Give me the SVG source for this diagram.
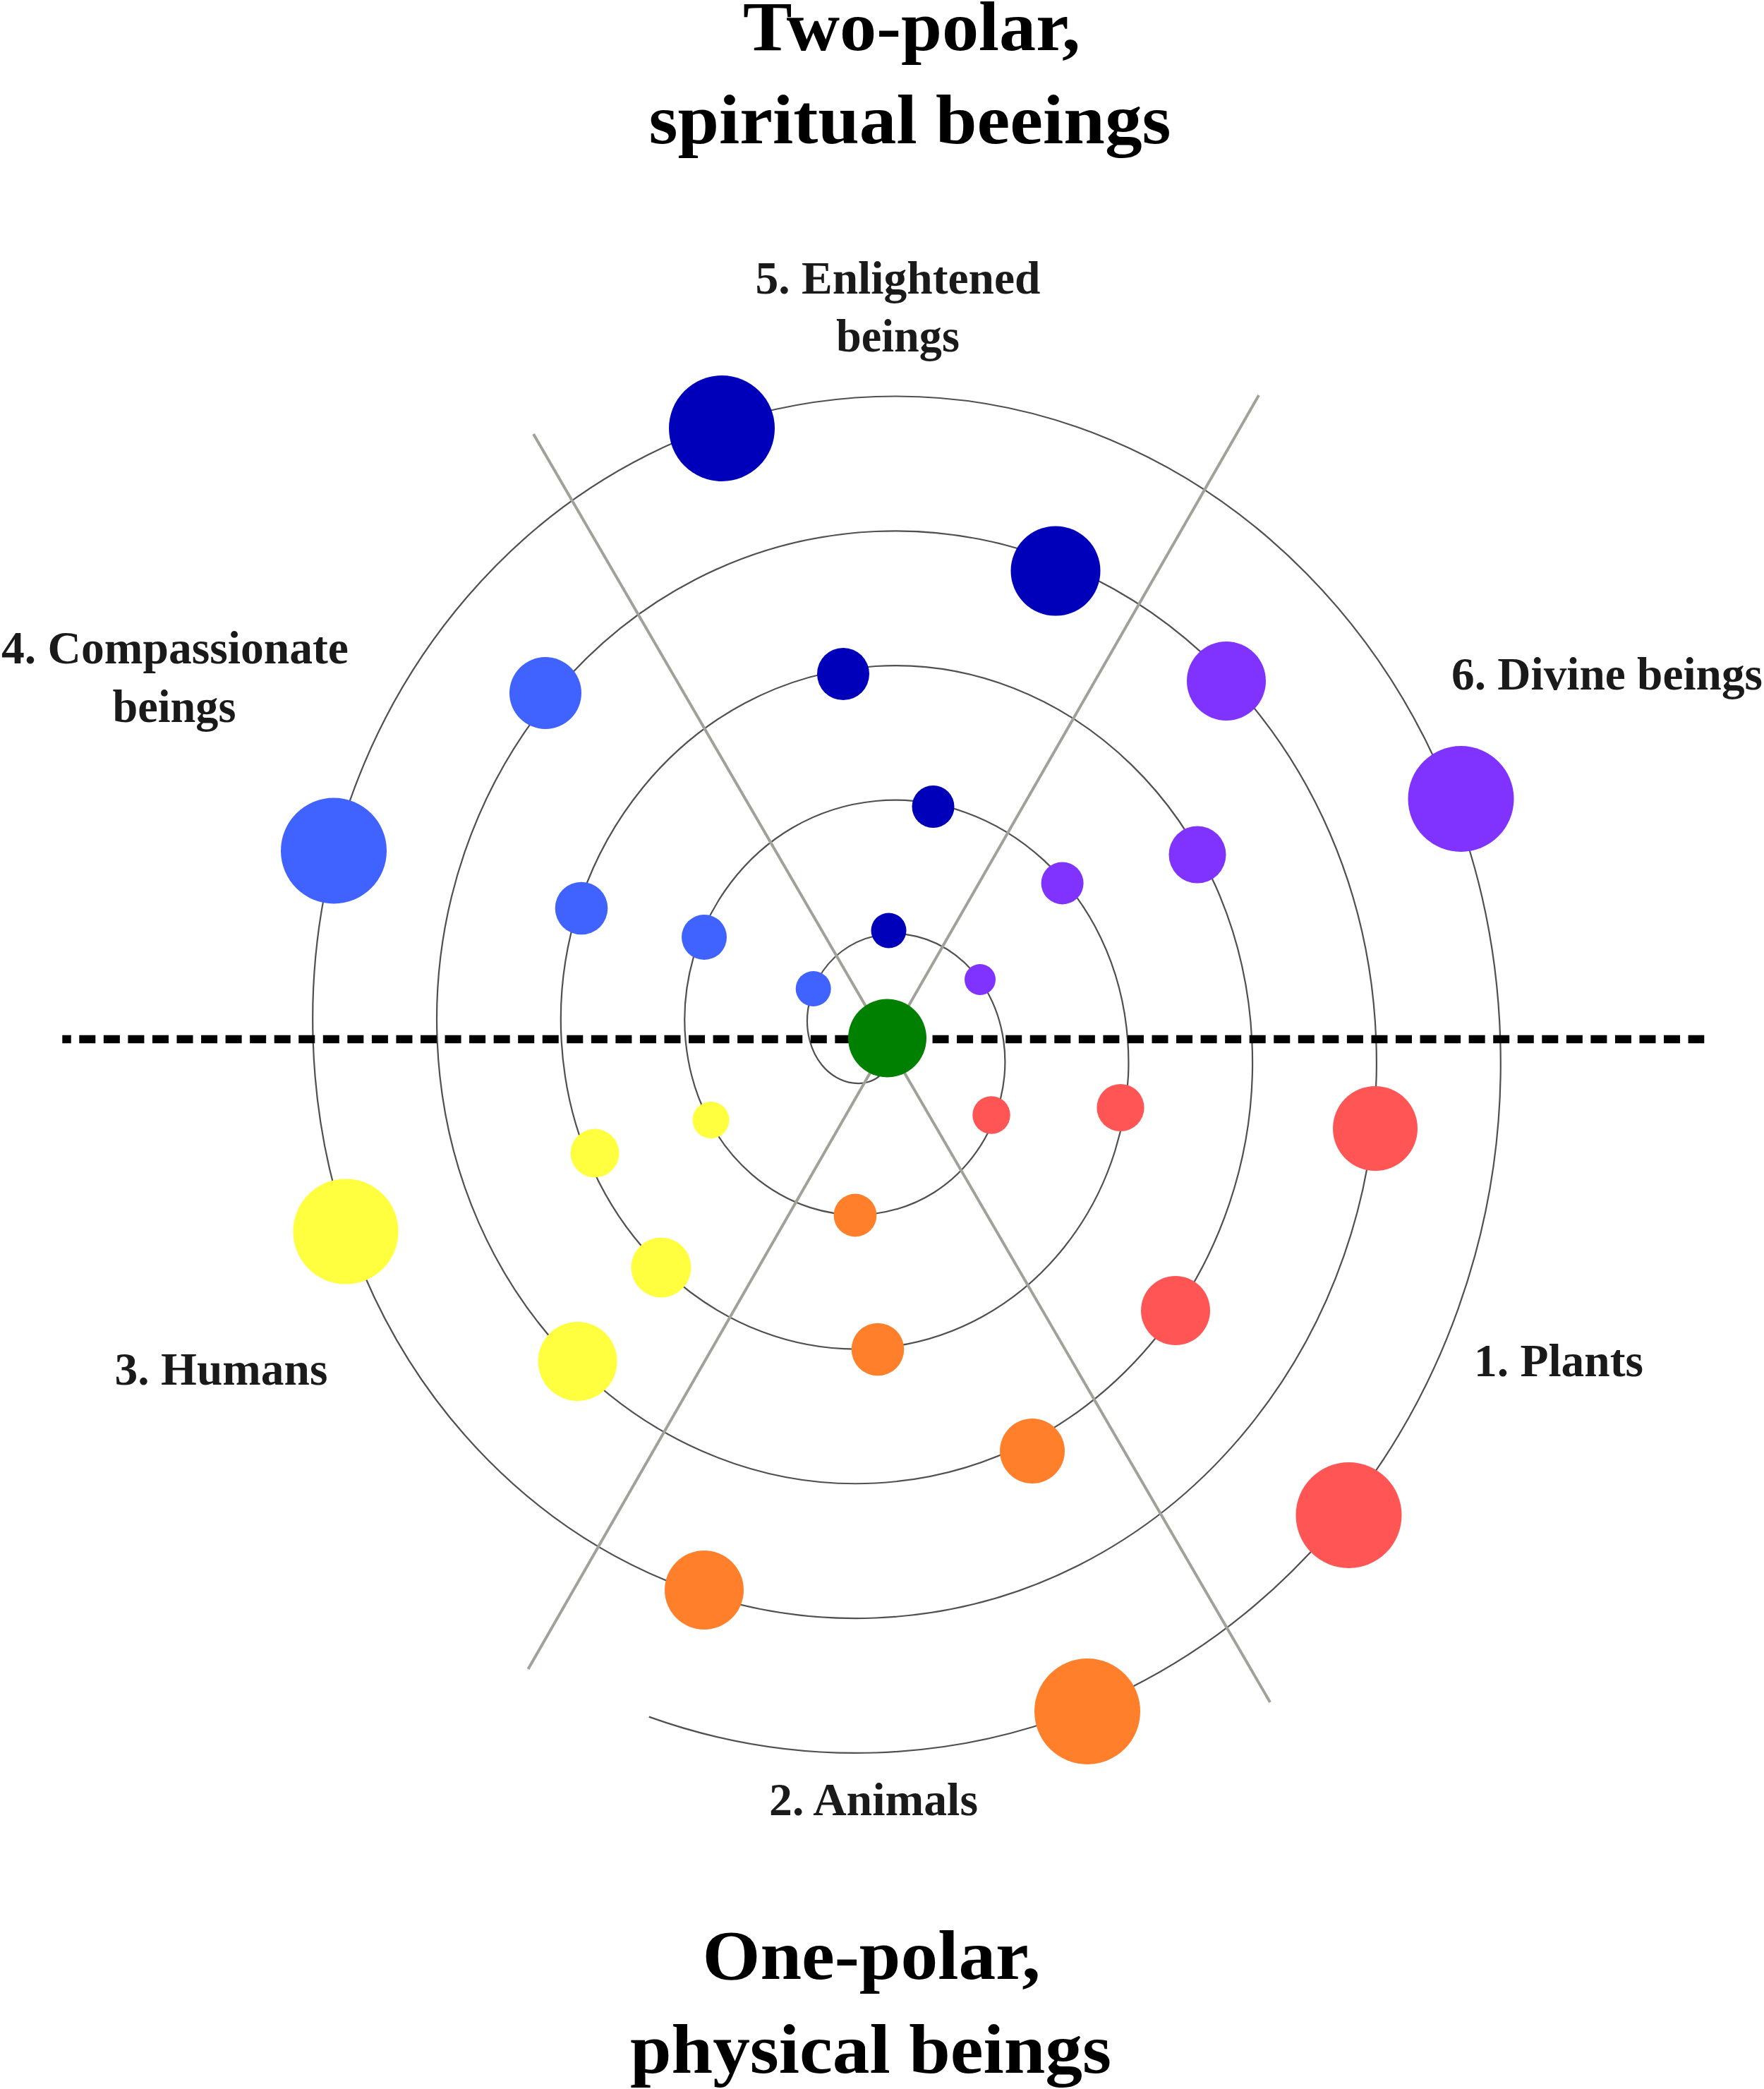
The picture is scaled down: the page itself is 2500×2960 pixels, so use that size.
<svg xmlns="http://www.w3.org/2000/svg" width="2500" height="2960" viewBox="0 0 2500 2960">
<style>
.title{font-family:"Liberation Serif","Times New Roman",serif;font-weight:bold;font-size:100px;fill:#000;text-anchor:middle}
.lbl{font-family:"Liberation Serif","Times New Roman",serif;font-weight:bold;font-size:65px;fill:#1a1a1a;text-anchor:middle}
.spiral{fill:none;stroke:#505050;stroke-width:2.2}
.axis{stroke:#a1a199;stroke-width:4;fill:none}
.dash{stroke:#000;stroke-width:11.5;stroke-dasharray:23 11.55;stroke-dashoffset:10.55;fill:none}
.db{fill:#0000bb}.bl{fill:#4062ff}.pu{fill:#8033ff}.rd{fill:#ff5555}.or{fill:#ff7f2a}.ye{fill:#ffff40}.gr{fill:#008000}
</style>
<rect width="2500" height="2960" fill="#fff"/>
<g id="connectors">
<path id="spiral" class="spiral" d="M1258.32,1507.55 C1255.52,1515.47 1249.65,1523.16 1241,1528.5
C1213.77,1545.29 1163.17,1530.92 1147.70,1475
C1132.23,1419.08 1165.17,1342.79 1241,1326
C1316.83,1309.21 1406.84,1366.34 1422.31,1475
C1437.78,1583.66 1365.44,1702.71 1241,1719.5
C1116.56,1736.29 987.16,1636.41 971.69,1475
C956.22,1313.59 1067.96,1151.79 1241,1135
C1414.04,1118.21 1582.84,1260.85 1598.31,1475
C1613.78,1689.15 1462.65,1893.71 1241,1910.5
C1019.35,1927.29 811.16,1741.90 795.69,1475
C780.22,1208.10 970.75,960.79 1241,944
C1511.25,927.21 1758.85,1155.36 1774.32,1475
C1789.79,1794.64 1559.86,2084.71 1241,2101.5
C922.14,2118.29 635.15,1847.39 619.68,1475
C604.21,1102.61 873.54,769.79 1241,753
C1608.46,736.21 1934.85,1049.87 1950.32,1475
C1965.79,1900.13 1657.07,2275.71 1241,2292.5
C824.93,2309.29 459.14,1952.88 443.67,1475
C428.20,997.12 776.33,578.79 1241,562
C1705.67,545.21 2110.86,944.38 2126.33,1475
C2141.80,2005.62 1754.28,2466.71 1241,2483.5
C1132.59,2487.05 1023.85,2469.98 919.79,2432.65"/>
<line id="axis-a" class="axis" x1="756" y1="615" x2="1800" y2="2412"/>
<line id="axis-b" class="axis" x1="1784" y1="560" x2="748.5" y2="2365"/>
<line id="polar-divide" class="dash" x1="88.3" y1="1472.5" x2="2415.3" y2="1472.5"/>
</g>
<g id="divine">
<g id="divine-1"><circle class="pu" cx="1389" cy="1388" r="22"/></g>
<g id="divine-2"><circle class="pu" cx="1505.6" cy="1251.4" r="30"/></g>
<g id="divine-3"><circle class="pu" cx="1697" cy="1211" r="40.5"/></g>
<g id="divine-4"><circle class="pu" cx="1738" cy="965" r="56"/></g>
<g id="divine-5"><circle class="pu" cx="2070.5" cy="1132" r="75"/></g>
</g>
<g id="enlightened">
<g id="enlightened-1"><circle class="db" cx="1259.5" cy="1318.5" r="25"/></g>
<g id="enlightened-2"><circle class="db" cx="1322.5" cy="1143" r="30"/></g>
<g id="enlightened-3"><circle class="db" cx="1195" cy="955" r="37"/></g>
<g id="enlightened-4"><circle class="db" cx="1496" cy="809" r="63.5"/></g>
<g id="enlightened-5"><circle class="db" cx="1023" cy="607" r="75"/></g>
</g>
<g id="compassionate">
<g id="compassionate-1"><circle class="bl" cx="1152.7" cy="1401" r="25"/></g>
<g id="compassionate-2"><circle class="bl" cx="998" cy="1328" r="32"/></g>
<g id="compassionate-3"><circle class="bl" cx="824" cy="1287" r="37.3"/></g>
<g id="compassionate-4"><circle class="bl" cx="773" cy="982" r="51"/></g>
<g id="compassionate-5"><circle class="bl" cx="473" cy="1205.5" r="75"/></g>
</g>
<g id="humans">
<g id="humans-1"><circle class="ye" cx="1007.5" cy="1587" r="26"/></g>
<g id="humans-2"><circle class="ye" cx="843" cy="1634" r="34.4"/></g>
<g id="humans-3"><circle class="ye" cx="937" cy="1796" r="42.5"/></g>
<g id="humans-4"><circle class="ye" cx="818.6" cy="1929" r="56"/></g>
<g id="humans-5"><circle class="ye" cx="490" cy="1745" r="74.6"/></g>
</g>
<g id="animals">
<g id="animals-1"><circle class="or" cx="1212" cy="1722" r="30.4"/></g>
<g id="animals-2"><circle class="or" cx="1244" cy="1912" r="37.3"/></g>
<g id="animals-3"><circle class="or" cx="1463" cy="2056" r="46"/></g>
<g id="animals-4"><circle class="or" cx="998" cy="2253" r="56"/></g>
<g id="animals-5"><circle class="or" cx="1541" cy="2425" r="75"/></g>
</g>
<g id="plants">
<g id="plants-1"><circle class="rd" cx="1405" cy="1580" r="26.7"/></g>
<g id="plants-2"><circle class="rd" cx="1588" cy="1569.5" r="33.6"/></g>
<g id="plants-3"><circle class="rd" cx="1666" cy="1857" r="49"/></g>
<g id="plants-4"><circle class="rd" cx="1949" cy="1599" r="60"/></g>
<g id="plants-5"><circle class="rd" cx="1911.5" cy="2147" r="75"/></g>
</g>
<g id="origin"><circle class="gr" cx="1257.5" cy="1471" r="55.5"/></g>
<g id="title-top">
<text class="title" x="1292" y="71" textLength="478" lengthAdjust="spacingAndGlyphs">Two-polar,</text>
<text class="title" x="1289.5" y="203" textLength="740" lengthAdjust="spacingAndGlyphs">spiritual beeings</text>
</g>
<g id="title-bottom">
<text class="title" x="1235" y="2804" textLength="479" lengthAdjust="spacingAndGlyphs">One-polar,</text>
<text class="title" x="1234" y="2937" textLength="682" lengthAdjust="spacingAndGlyphs">physical beings</text>
</g>
<g id="label-5">
<text class="lbl" x="1272.5" y="416" textLength="404" lengthAdjust="spacingAndGlyphs">5. Enlightened</text>
<text class="lbl" x="1272.5" y="498" textLength="175" lengthAdjust="spacingAndGlyphs">beings</text>
</g>
<g id="label-4">
<text class="lbl" x="248" y="940" textLength="492" lengthAdjust="spacingAndGlyphs">4. Compassionate</text>
<text class="lbl" x="247" y="1022.5" textLength="175" lengthAdjust="spacingAndGlyphs">beings</text>
</g>
<g id="label-6"><text class="lbl" x="2057" y="977" style="text-anchor:start" textLength="441" lengthAdjust="spacingAndGlyphs">6. Divine beings</text></g>
<g id="label-1"><text class="lbl" x="2089" y="1949.5" style="text-anchor:start" textLength="240" lengthAdjust="spacingAndGlyphs">1. Plants</text></g>
<g id="label-3"><text class="lbl" x="313.5" y="1962" textLength="302" lengthAdjust="spacingAndGlyphs">3. Humans</text></g>
<g id="label-2"><text class="lbl" x="1238" y="2571.5" textLength="296" lengthAdjust="spacingAndGlyphs">2. Animals</text></g>
</svg>
